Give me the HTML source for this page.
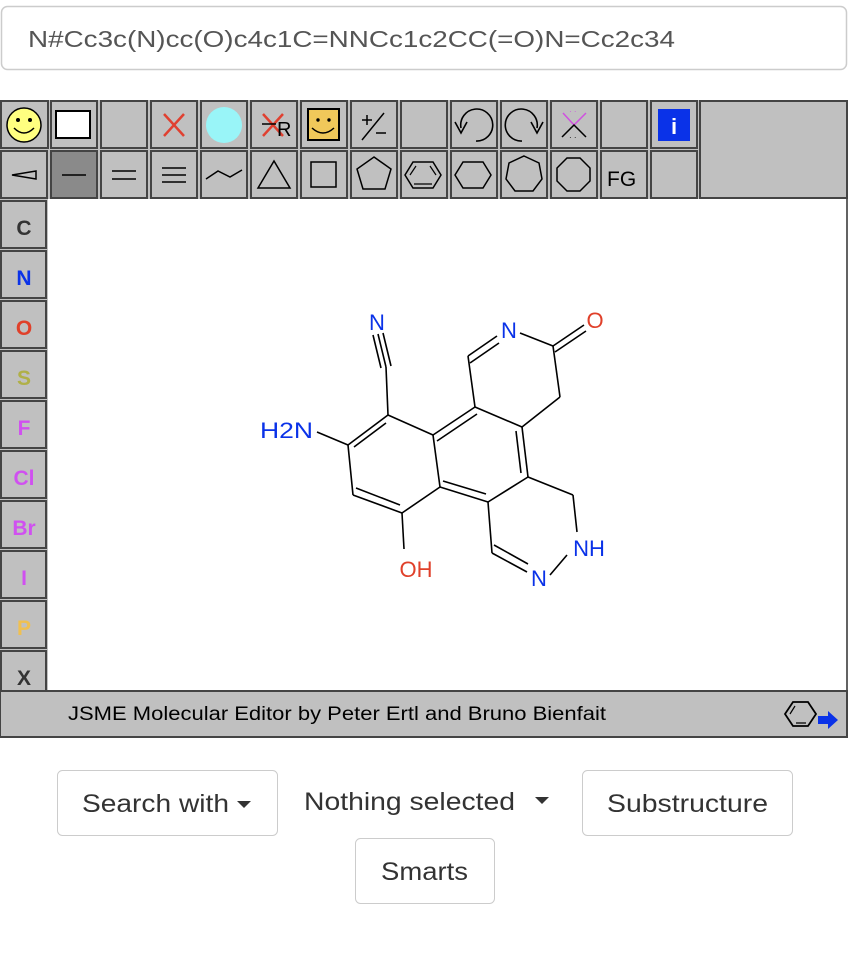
<!DOCTYPE html>
<html><head><meta charset="utf-8"><style>
html,body{margin:0;padding:0;background:#fff;width:848px;height:960px;overflow:hidden}
svg{display:block}
text{font-family:"Liberation Sans",Arial,sans-serif}
</style></head><body>
<svg width="848" height="960" viewBox="0 0 848 960" xmlns="http://www.w3.org/2000/svg">
<!-- input -->
<rect x="1.5" y="6.5" width="845" height="63" rx="6" fill="#fff" stroke="#ccc" stroke-width="1.5"/>
<text x="28" y="47" font-size="23" fill="#555" textLength="647" lengthAdjust="spacingAndGlyphs">N#Cc3c(N)cc(O)c4c1C=NNCc1c2CC(=O)N=Cc2c34</text>

<!-- JSME frame -->
<rect x="0" y="100" width="848" height="638" fill="#c0c0c0"/>
<rect x="48" y="199" width="798" height="492" fill="#fff"/>
<line x1="847" y1="199" x2="847" y2="738" stroke="#444" stroke-width="1.5"/>
<g fill="#c0c0c0" stroke="#444" stroke-width="2">
<rect x="1" y="101" width="47" height="47"/><rect x="51" y="101" width="46" height="47"/><rect x="101" y="101" width="46" height="47"/><rect x="151" y="101" width="46" height="47"/><rect x="201" y="101" width="46" height="47"/><rect x="251" y="101" width="46" height="47"/><rect x="301" y="101" width="46" height="47"/><rect x="351" y="101" width="46" height="47"/><rect x="401" y="101" width="46" height="47"/><rect x="451" y="101" width="46" height="47"/><rect x="501" y="101" width="46" height="47"/><rect x="551" y="101" width="46" height="47"/><rect x="601" y="101" width="46" height="47"/><rect x="651" y="101" width="46" height="47"/>
<rect x="700" y="101" width="147" height="97"/>
<rect x="1" y="151" width="46" height="47"/><rect x="51" y="151" width="46" height="47" fill="#8a8a8a"/><rect x="101" y="151" width="46" height="47"/><rect x="151" y="151" width="46" height="47"/><rect x="201" y="151" width="46" height="47"/><rect x="251" y="151" width="46" height="47"/><rect x="301" y="151" width="46" height="47"/><rect x="351" y="151" width="46" height="47"/><rect x="401" y="151" width="46" height="47"/><rect x="451" y="151" width="46" height="47"/><rect x="501" y="151" width="46" height="47"/><rect x="551" y="151" width="46" height="47"/><rect x="601" y="151" width="46" height="47"/><rect x="651" y="151" width="46" height="47"/>
<rect x="1" y="201" width="45" height="47"/><rect x="1" y="251" width="45" height="47"/><rect x="1" y="301" width="45" height="47"/><rect x="1" y="351" width="45" height="47"/><rect x="1" y="401" width="45" height="47"/><rect x="1" y="451" width="45" height="47"/><rect x="1" y="501" width="45" height="47"/><rect x="1" y="551" width="45" height="47"/><rect x="1" y="601" width="45" height="47"/><rect x="1" y="651" width="45" height="47"/>
<rect x="0" y="691" width="847" height="46"/>
</g>
<!-- row1 icons -->
<circle cx="24" cy="125" r="17" fill="#ffff80" stroke="#000" stroke-width="1.5"/>
<circle cx="18" cy="120" r="2" fill="#000"/><circle cx="30" cy="120" r="2" fill="#000"/>
<path d="M14 128 Q24 138 34 128" fill="none" stroke="#000" stroke-width="1.5"/>
<rect x="56" y="111" width="34" height="27" fill="#fff" stroke="#000" stroke-width="2"/>
<path d="M164 114 L184 136 M184 114 L164 136" stroke="#e04030" stroke-width="2.5"/>
<circle cx="224" cy="125" r="18" fill="#99f5f8"/>
<path d="M263 114 L283 136 M283 114 L263 136" stroke="#e04030" stroke-width="2.5"/>
<line x1="262" y1="124" x2="276" y2="124" stroke="#000" stroke-width="1.5"/>
<text x="277" y="136" font-size="20" fill="#000">R</text>
<rect x="308" y="109" width="31" height="31" fill="#f0c85a" stroke="#000" stroke-width="2"/>
<circle cx="318" cy="120" r="1.7" fill="#000"/><circle cx="329" cy="120" r="1.7" fill="#000"/>
<path d="M312 128 Q323 138 334 128" fill="none" stroke="#000" stroke-width="1.5"/>
<path d="M362 120 H372 M367 115 V125 M362 140 L384 113 M376 133 H386" stroke="#000" stroke-width="1.5"/>
<path d="M461 128 A16 16 0 1 1 476 141" fill="none" stroke="#000" stroke-width="1.6"/>
<path d="M455 122 L461 133 L467 122" fill="none" stroke="#000" stroke-width="1.6"/>
<path d="M537 128 A16 16 0 1 0 522 141" fill="none" stroke="#000" stroke-width="1.6"/>
<path d="M543 122 L537 133 L531 122" fill="none" stroke="#000" stroke-width="1.6"/>
<path d="M563 113 L574 125 L586 113" fill="none" stroke="#d050e0" stroke-width="1.5"/>
<path d="M562 137 L574 125 L586 137" fill="none" stroke="#000" stroke-width="1.5"/>
<text x="569" y="114" font-size="8" fill="#d050e0">· ·</text>
<text x="569" y="140" font-size="8" fill="#000">· ·</text>
<rect x="658" y="109" width="32" height="32" fill="#0a32e8"/>
<text x="674" y="134" font-size="22" font-weight="bold" fill="#fff" text-anchor="middle">i</text>
<!-- row2 icons -->
<path d="M12 175 L36 171 L36 179 Z" fill="none" stroke="#000" stroke-width="1.5"/>
<line x1="62" y1="175" x2="86" y2="175" stroke="#000" stroke-width="1.5"/>
<path d="M112 171 H136 M112 179 H136" stroke="#000" stroke-width="1.5"/>
<path d="M162 168 H186 M162 175 H186 M162 182 H186" stroke="#000" stroke-width="1.5"/>
<path d="M206 179 L218 171 L230 177 L242 170" fill="none" stroke="#000" stroke-width="1.5"/>
<path d="M258 188 L274 161 L290 188 Z" fill="none" stroke="#000" stroke-width="1.5"/>
<rect x="311" y="162" width="25" height="25" fill="none" stroke="#000" stroke-width="1.5"/>
<path d="M374 157 L391 169 L385 189 L363 189 L357 169 Z" fill="none" stroke="#000" stroke-width="1.5"/>
<path d="M413 162 L433 162 L441 175 L433 188 L413 188 L405 175 Z" fill="none" stroke="#000" stroke-width="1.5"/>
<path d="M410 175 L416 166 M430 166 L436 175 M414 184 H432" stroke="#000" stroke-width="1.2"/>
<path d="M463 162 L483 162 L491 175 L483 188 L463 188 L455 175 Z" fill="none" stroke="#000" stroke-width="1.5"/>
<path d="M524 156 L539 163 L542 179 L533 191 L515 191 L506 179 L509 163 Z" fill="none" stroke="#000" stroke-width="1.5"/>
<path d="M567 158 L580 158 L590 168 L590 181 L580 191 L567 191 L557 181 L557 168 Z" fill="none" stroke="#000" stroke-width="1.5"/>
<text x="607" y="186" font-size="21" fill="#000">FG</text>
<!-- left col labels -->
<g font-size="21" font-weight="bold" text-anchor="middle">
<text x="24" y="235" fill="#333">C</text>
<text x="24" y="285" fill="#0a32e8">N</text>
<text x="24" y="335" fill="#e0402a">O</text>
<text x="24" y="385" fill="#b0b048">S</text>
<text x="24" y="435" fill="#d050f0">F</text>
<text x="24" y="485" fill="#d050f0">Cl</text>
<text x="24" y="535" fill="#d050f0">Br</text>
<text x="24" y="585" fill="#d050f0">I</text>
<text x="24" y="635" fill="#f0c050">P</text>
<text x="24" y="685" fill="#333">X</text>
</g>
<text x="68" y="720" font-size="19" fill="#000" textLength="538" lengthAdjust="spacingAndGlyphs">JSME Molecular Editor by Peter Ertl and Bruno Bienfait</text>
<path d="M793 702 L808 702 L816 714 L808 726 L793 726 L785 714 Z" fill="none" stroke="#000" stroke-width="1.8"/>
<path d="M790 714 L795 706 M796 723 H806" stroke="#000" stroke-width="1.2"/>
<path d="M818 716 H828 V711 L838 720 L828 729 V724 H818 Z" fill="#0a32e8"/>

<!-- molecule -->
<g stroke="#000" stroke-width="1.6" fill="none">
<path d="M378 334 L386 367 M373 335 L381 368 M383 333 L391 366"/>
<line x1="386" y1="367" x2="388" y2="415"/>
<line x1="388" y1="415" x2="348" y2="445"/><line x1="386" y1="423" x2="354" y2="447"/>
<line x1="348" y1="445" x2="353" y2="495"/>
<line x1="353" y1="495" x2="402" y2="513"/><line x1="356" y1="488" x2="400" y2="505"/>
<line x1="402" y1="513" x2="440" y2="487"/>
<line x1="440" y1="487" x2="433" y2="435"/>
<line x1="433" y1="435" x2="388" y2="415"/>
<line x1="433" y1="435" x2="475" y2="407"/><line x1="437" y1="441" x2="477" y2="414"/>
<line x1="475" y1="407" x2="522" y2="427"/>
<line x1="522" y1="427" x2="528" y2="477"/><line x1="516" y1="431" x2="521" y2="473"/>
<line x1="528" y1="477" x2="488" y2="502"/>
<line x1="488" y1="502" x2="440" y2="487"/><line x1="486" y1="494" x2="443" y2="481"/>
<line x1="475" y1="407" x2="468" y2="356"/>
<line x1="468" y1="356" x2="497" y2="336"/><line x1="470" y1="363" x2="499" y2="343"/>
<line x1="520" y1="333" x2="553" y2="346"/>
<line x1="553" y1="346" x2="584" y2="325"/><line x1="555" y1="352" x2="586" y2="331"/>
<line x1="553" y1="346" x2="560" y2="397"/>
<line x1="560" y1="397" x2="522" y2="427"/>
<line x1="488" y1="502" x2="492" y2="553"/>
<line x1="492" y1="553" x2="527" y2="572"/><line x1="494" y1="545" x2="528" y2="564"/>
<line x1="550" y1="575" x2="567" y2="555"/>
<line x1="577" y1="532" x2="573" y2="495"/>
<line x1="573" y1="495" x2="528" y2="477"/>
<line x1="317" y1="432" x2="348" y2="445"/>
<line x1="402" y1="513" x2="404" y2="549"/>
</g>
<g font-size="22">
<text x="377" y="330" fill="#0a32e8" text-anchor="middle">N</text>
<text x="509" y="338" fill="#0a32e8" text-anchor="middle">N</text>
<text x="595" y="328" fill="#e0402a" text-anchor="middle">O</text>
<text x="260" y="438" fill="#0a32e8" textLength="53" lengthAdjust="spacingAndGlyphs">H2N</text>
<text x="416" y="577" fill="#e0402a" text-anchor="middle">OH</text>
<text x="539" y="586" fill="#0a32e8" text-anchor="middle">N</text>
<text x="589" y="556" fill="#0a32e8" text-anchor="middle">NH</text>
</g>

<!-- buttons -->
<rect x="57.5" y="770.5" width="220" height="65" rx="5" fill="#fff" stroke="#ccc"/>
<text x="82" y="812" font-size="25" fill="#333" textLength="147" lengthAdjust="spacingAndGlyphs">Search with</text>
<path d="M237 801 L251 801 L244 808 Z" fill="#333"/>
<text x="304" y="810" font-size="25" fill="#333" textLength="211" lengthAdjust="spacingAndGlyphs">Nothing selected</text>
<path d="M535 797 L549 797 L542 804 Z" fill="#333"/>
<rect x="582.5" y="770.5" width="210" height="65" rx="5" fill="#fff" stroke="#ccc"/>
<text x="607" y="812" font-size="25" fill="#333" textLength="161" lengthAdjust="spacingAndGlyphs">Substructure</text>
<rect x="355.5" y="838.5" width="139" height="65" rx="5" fill="#fff" stroke="#ccc"/>
<text x="381" y="880" font-size="25" fill="#333" textLength="87" lengthAdjust="spacingAndGlyphs">Smarts</text>
</svg>
</body></html>
